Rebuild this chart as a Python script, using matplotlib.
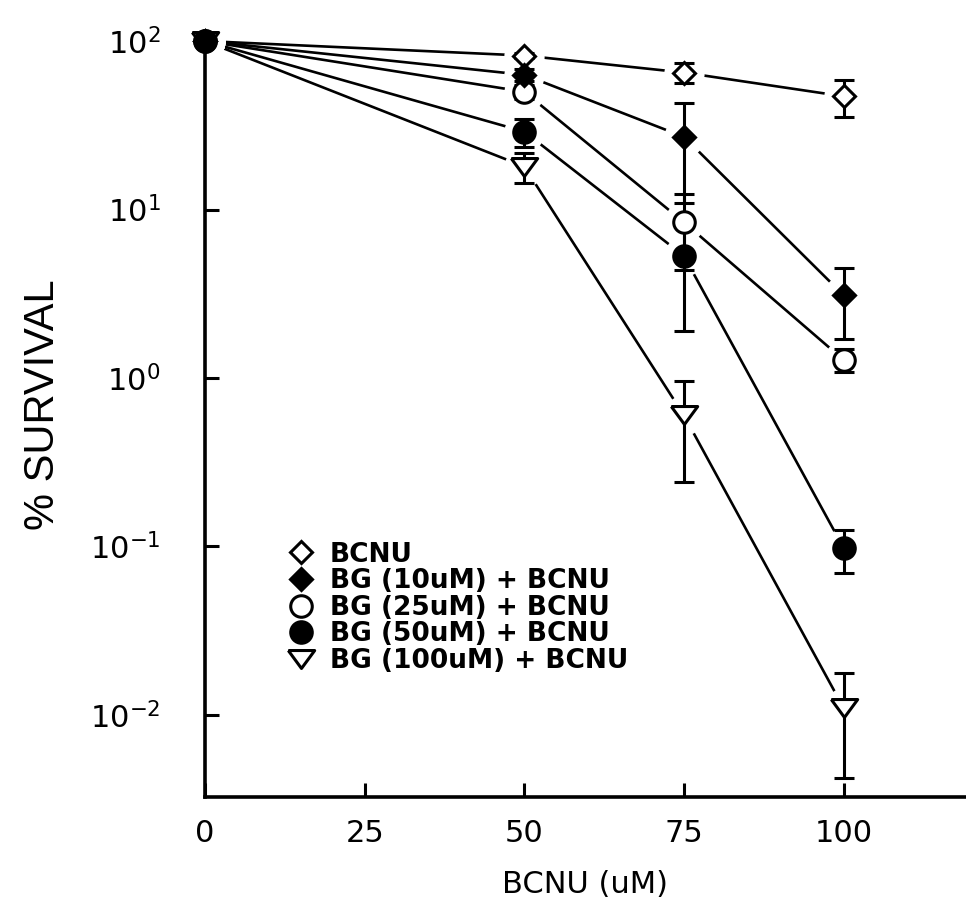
import matplotlib
matplotlib.use('Agg')
import matplotlib.pyplot as plt
from matplotlib.lines import Line2D

plt.rcParams['font.family'] = ['DejaVu Sans']
plt.rcParams['mathtext.default'] = 'regular'

# BCNU dose (uM)
dose = [0, 50, 75, 100]

# % survival and error for each treatment
bcnu = [100, 82, 65, 47]
bcnu_err = [4, 3, 9, 11.5]
bg10 = [100, 63, 27, 3.1]
bg10_err = [4, 5, 16, 1.4]
bg25 = [100, 50, 8.4, 1.28]
bg25_err = [4, 5, 4.0, 0.2]
bg50 = [100, 29, 5.3, 0.098]
bg50_err = [4, 5.5, 3.4, 0.028]
bg100 = [100, 18, 0.6, 0.011]
bg100_err = [4, 3.7, 0.36, 0.0068]

labels = ['BCNU', 'BG (10uM) + BCNU', 'BG (25uM) + BCNU',
          'BG (50uM) + BCNU', 'BG (100uM) + BCNU']

tri = [(-1, 0.68), (1, 0.68), (0, -0.68), (-1, 0.68)]
styles = [
    dict(marker='D', mfc='white', ms=11.5),
    dict(marker='D', mfc='black', ms=11.5),
    dict(marker='o', mfc='white', ms=15.5),
    dict(marker='o', mfc='black', ms=15.5),
    dict(marker=tri, mfc='white', ms=19),
]
series = [(bcnu, bcnu_err), (bg10, bg10_err), (bg25, bg25_err),
          (bg50, bg50_err), (bg100, bg100_err)]
marker_z = [4, 4.2, 4.1, 4.4, 4.3]

fig = plt.figure(figsize=(9.66, 9.10), dpi=100)
ax = fig.add_axes([0.2122, 0.1242, 0.7867, 0.8418])

for (vals, err), st in zip(series, styles):
    ax.plot(dose, vals, color='black', lw=1.9, zorder=1)
    # white halo so the curve stops short of each symbol
    ax.plot(dose, vals, ls='none', marker='o', ms=29, mfc='white',
            mec='none', zorder=2, clip_on=False)

for (vals, err), st, z in zip(series, styles, marker_z):
    ax.errorbar(dose, vals, yerr=err, fmt='none', ecolor='black',
                elinewidth=2.2, capsize=7, capthick=2.2, zorder=3,
                clip_on=False)
    ax.plot(dose, vals, ls='none', mec='black', mew=2.2, zorder=z,
            clip_on=False, **st)

ax.set_yscale('log')
ax.set_xlim(0, 119)
ax.set_ylim(10 ** -2.487, 10 ** 2.06)
ax.set_xticks([0, 25, 50, 75, 100])
ax.set_yticks([1e-2, 1e-1, 1e0, 1e1, 1e2])
ax.yaxis.set_minor_locator(matplotlib.ticker.NullLocator())

for side in ['top', 'right']:
    ax.spines[side].set_visible(False)
for side in ['left', 'bottom']:
    ax.spines[side].set_linewidth(2.6)

ax.tick_params(axis='both', direction='in', width=2.2, length=10,
               labelsize=22)
ax.tick_params(axis='x', pad=16)
ax.tick_params(axis='y', pad=32)

ax.set_xlabel('BCNU (uM)', fontsize=22)
ax.xaxis.set_label_coords(0.5, -0.095)
ax.set_ylabel('% SURVIVAL', fontsize=30, fontfamily='Liberation Sans')
ax.yaxis.set_label_coords(-0.187, 0.512)

handles = [Line2D([], [], ls='none', mec='black', mew=2.2, **st)
           for st in styles]
leg = ax.legend(handles, labels, loc='upper left',
                bbox_to_anchor=(0.095, 0.347), frameon=False,
                prop={'size': 19, 'weight': 'bold'}, labelspacing=0.02,
                handletextpad=0.6, handlelength=1.0, borderaxespad=0)

fig.savefig('out.png', dpi=100)
